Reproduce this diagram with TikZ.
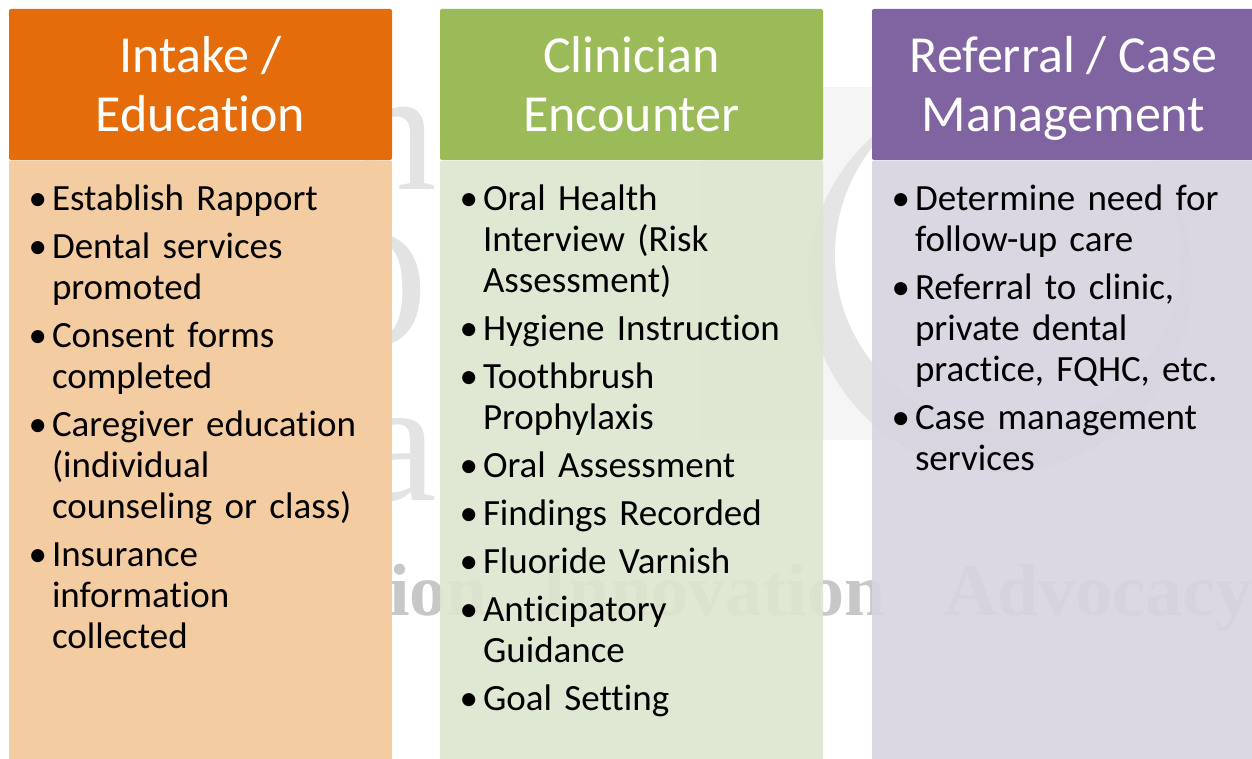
\documentclass[tikz,border=0pt]{standalone}
\usepackage{fontspec}
\setmainfont{Carlito}[Ligatures={NoCommon}]
\newfontfamily\wmfont{Liberation Serif}
\usepackage{enumitem}
\usetikzlibrary{positioning}

\definecolor{intakeorange}{HTML}{E46C0A}
\definecolor{intakefill}{HTML}{F3CCA2}
\definecolor{clinicgreen}{HTML}{9BBB59}
\definecolor{clinicfill}{HTML}{DDE6D0}
\definecolor{referpurple}{HTML}{8064A2}
\definecolor{referfill}{HTML}{D8D4E1}

\newenvironment{collist}
  {\raggedright\begin{itemize}[leftmargin=25pt, labelsep=5pt, itemsep=7pt,
     topsep=0pt, parsep=0pt, partopsep=0pt]}
  {\end{itemize}}
% two header lines on fixed baselines
\newcommand{\headlines}[2]{\rule{0pt}{53pt}#1\\#2\rule[-17.7pt]{0pt}{17.7pt}}

\begin{document}
\begin{tikzpicture}[x=1pt, y=-1pt,
    head/.style={rectangle, rounded corners=2pt, minimum width=383pt, minimum height=151pt,
                 inner sep=0pt, align=center, text=white, font=\fontsize{52}{59}\selectfont},
    body/.style={rectangle, rounded corners=2pt, minimum width=383pt, minimum height=610pt,
                 inner sep=0pt, fill opacity=0.93},
    items/.style={anchor=north west, inner sep=0pt, text width=340pt, align=left,
                  font=\fontsize{37}{41}\selectfont},
    motto/.style={anchor=base west, inner sep=0pt, text=black!22,
                  font=\wmfont\bfseries\fontsize{74}{74}\selectfont},
    logo/.style={anchor=base east, inner sep=0pt, text=black!11,
                 font=\wmfont\fontsize{175}{175}\selectfont},
]
\useasboundingbox (0,0) rectangle (1252,759);
\clip (0,0) rectangle (1252,759);

% faint logo behind the columns
\fill[black!4] (700,87) rectangle (1252,440);
\fill[black!10] (1000,280) circle[radius=192];
\fill[white] (1008,255) circle[radius=173];
\node[logo] (logon) at (437,190) {n};
\node[logo] (logoo) at (428,347) {O};
\node[logo] (logoa) at (437,500) {a};
\node[motto] (mottoa) at (389,615) {ion};
\node[motto] (mottob) at (540,615) {Innovation};
\node[motto] (mottoc) at (944,615) {Advocacy};

% Intake / Education
\node[head, fill=intakeorange] (intake) at (200.5,84.5) {\headlines{Intake /}{Education}};
\node[body, fill=intakefill, fill opacity=1, below=0pt of intake] (intakebody) {};
\node[items] (intakelist) at ([xshift=18pt, yshift=-9pt]intakebody.north west) {%
  \begin{collist}
    \item \strut Establish Rapport
    \item Dental services\\promoted
    \item Consent forms\\completed
    \item Caregiver education\\(individual\\counseling or class)
    \item Insurance\\information\\collected
  \end{collist}};

% Clinician Encounter
\node[head, fill=clinicgreen] (clinician) at (631.5,84.5) {\headlines{Clinician}{Encounter}};
\node[body, fill=clinicfill, below=0pt of clinician] (clinicianbody) {};
\node[items] (clinicianlist) at ([xshift=18pt, yshift=-9pt]clinicianbody.north west) {%
  \begin{collist}
    \item \strut Oral Health\\Interview (Risk\\Assessment)
    \item Hygiene Instruction
    \item Toothbrush\\Prophylaxis
    \item Oral Assessment
    \item Findings Recorded
    \item Fluoride Varnish
    \item Anticipatory\\Guidance
    \item Goal Setting
  \end{collist}};

% Referral / Case Management
\node[head, fill=referpurple] (referral) at (1063.5,84.5) {\headlines{Referral / Case}{Management}};
\node[body, fill=referfill, below=0pt of referral] (referralbody) {};
\node[items] (referrallist) at ([xshift=18pt, yshift=-9pt]referralbody.north west) {%
  \begin{collist}
    \item \strut Determine need for\\follow-up care
    \item Referral to clinic,\\private dental\\practice, FQHC, etc.
    \item Case management\\services
  \end{collist}};
\end{tikzpicture}
\end{document}
